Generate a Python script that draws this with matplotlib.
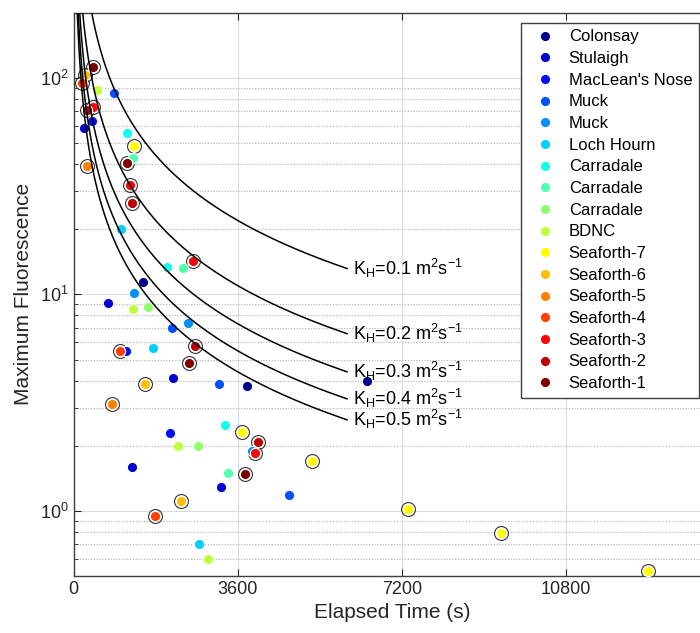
import numpy as np
import matplotlib.pyplot as plt
from matplotlib.ticker import LogLocator, NullFormatter, FixedLocator

plt.rcParams['font.family'] = ['Liberation Sans', 'DejaVu Sans']

# Site names (legend order)
names = ["Colonsay", "Stulaigh", "MacLean's Nose", "Muck", "Muck", "Loch Hourn",
         "Carradale", "Carradale", "Carradale", "BDNC", "Seaforth-7", "Seaforth-6",
         "Seaforth-5", "Seaforth-4", "Seaforth-3", "Seaforth-2", "Seaforth-1"]

# Elapsed time (s) for each release, one list per site
elapsed = [
    [1528, 3797, 6432],
    [226, 746, 2186, 1273, 3227],
    [409, 1148, 2114],
    [891, 2165, 3196, 4726],
    [1330, 2516, 3907],
    [1032, 1747, 2757],
    [1177, 2041, 3321],
    [1309, 2406, 3394],
    [1638, 2735],
    [505, 1309, 2296, 2955],
    [1323, 3688, 5224, 7332, 9379, 12613],
    [248, 1565, 2355],
    [299, 834],
    [176, 1016, 1785],
    [430, 1236, 2612, 3980],
    [285, 1273, 2669, 4053],
    [430, 1177, 2537, 3760],
]

# Maximum fluorescence, same layout as elapsed
fluor = [
    [11.4, 3.77, 3.98],
    [58.4, 9.17, 4.10, 1.59, 1.29],
    [63.4, 5.5, 2.30],
    [85.0, 7.0, 3.86, 1.19],
    [10.2, 7.35, 1.89],
    [19.95, 5.68, 0.70],
    [55.4, 13.4, 2.49],
    [42.6, 13.2, 1.50],
    [8.76, 1.99],
    [88.0, 8.52, 1.99, 0.60],
    [48.6, 2.32, 1.70, 1.02, 0.79, 0.53],
    [103, 3.86, 1.11],
    [39.0, 3.11],
    [94.8, 5.48, 0.943],
    [73.5, 32.0, 14.2, 1.85],
    [71.2, 26.4, 5.78, 2.07],
    [112.8, 40.3, 4.81, 1.48],
]

# Diffusion curves: F = A / (K_H * t)
kh_values = [0.1, 0.2, 0.3, 0.4, 0.5]
amp = 7900.0
t_end = 6000


def matlab_jet(m=64):
    # same construction as MATLAB's jet.m
    n = int(np.ceil(m / 4))
    u = np.concatenate([np.arange(1, n + 1) / n, np.ones(n - 1), np.arange(n, 0, -1) / n])
    g = int(np.ceil(n / 2)) - (m % 4 == 1) + np.arange(1, len(u) + 1)
    r = g + n
    b = g - n
    g = g[g <= m]
    r = r[r <= m]
    b = b[b >= 1]
    J = np.zeros((m, 3))
    J[r - 1, 0] = u[:len(r)]
    J[g - 1, 1] = u[:len(g)]
    J[b - 1, 2] = u[len(u) - len(b):]
    return J


jet64 = matlab_jet(64)
rows = np.floor(np.linspace(0, 63, len(names)) + 0.5).astype(int)
colors = jet64[rows]

fig = plt.figure(figsize=(7.0, 6.33), dpi=100)
ax = fig.add_axes([0.1053, 0.0900, 0.9111, 0.8899])

for i, name in enumerate(names):
    if name.startswith("Seaforth"):
        ax.plot(elapsed[i], fluor[i], 'o', ms=10, mfc='none', mec='#333333',
                mew=0.8, zorder=2)
    ax.plot(elapsed[i], fluor[i], 'o', ms=7.4, mfc=colors[i], mec='white',
            mew=0.8, zorder=3, label=name)

t = np.linspace(20, t_end, 600)
for k in kh_values:
    ax.plot(t, amp / (k * t), color='black', lw=1.1, zorder=4)
    ax.annotate(r'K$_\mathregular{H}$=%g m$^\mathregular{2}$s$^\mathregular{-1}$' % k,
                xy=(t_end, amp / (k * t_end)), xytext=(4, -4.5),
                textcoords='offset points', va='baseline', ha='left',
                fontsize=13, zorder=5)

ax.set_yscale('log')
ax.set_xlim(0, 14000)
ax.set_ylim(0.5, 200)
ax.xaxis.set_major_locator(FixedLocator([0, 3600, 7200, 10800]))
ax.yaxis.set_major_locator(LogLocator(base=10))
ax.yaxis.set_minor_locator(LogLocator(base=10, subs=np.arange(2, 10)))
ax.yaxis.set_minor_formatter(NullFormatter())

ax.grid(True, which='major', color='#dcdcdc', lw=0.8, ls='-')
ax.grid(True, which='minor', axis='y', color='#b0b0b0', lw=0.8, ls=(0, (1, 1.5)))
ax.set_axisbelow(True)

ax.tick_params(which='both', direction='in', top=True, right=True,
               colors='#262626', labelsize=13)
ax.tick_params(which='major', length=5)
ax.tick_params(which='minor', length=3)
for s in ax.spines.values():
    s.set_color('#404040')
    s.set_linewidth(1.0)

ax.set_xlabel('Elapsed Time (s)', fontsize=15, color='#262626', labelpad=4)
ax.set_ylabel('Maximum Fluorescence', fontsize=15, color='#262626', labelpad=5)

leg = ax.legend(loc='upper right', bbox_to_anchor=(699 / 700, (633 - 22.7) / 633),
                bbox_transform=fig.transFigure, borderaxespad=0, fontsize=12,
                frameon=True, fancybox=False, framealpha=1, edgecolor='#404040',
                handlelength=2.0, handletextpad=0.45, borderpad=0.4,
                labelspacing=0.40, numpoints=1)
leg.get_frame().set_linewidth(1.0)

fig.savefig('out.png', dpi=100)
